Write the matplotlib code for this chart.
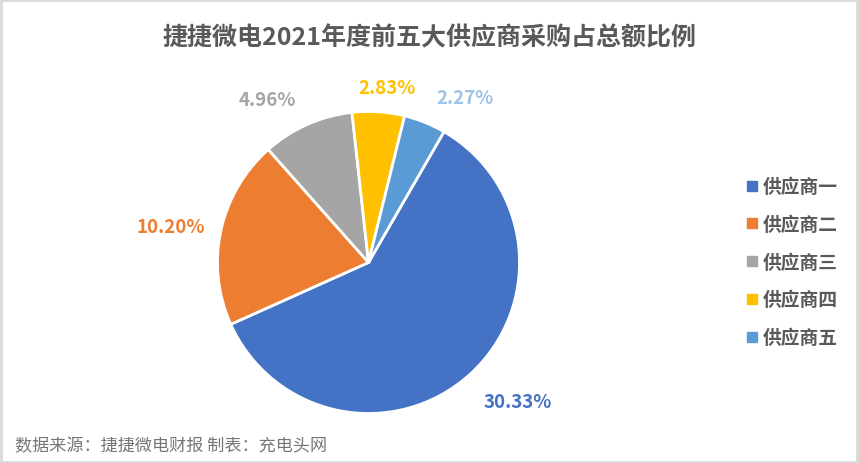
import matplotlib
matplotlib.use("Agg")
import numpy as np
import matplotlib.pyplot as plt
from matplotlib.lines import Line2D
from matplotlib.patches import Rectangle

plt.rcParams['font.family'] = ['Noto Sans CJK SC', 'DejaVu Sans']

# data
suppliers = ['供应商一', '供应商二', '供应商三', '供应商四', '供应商五']
shares = [30.33, 10.20, 4.96, 2.83, 2.27]
pct_labels = ['30.33%', '10.20%', '4.96%', '2.83%', '2.27%']

colors = ['#4472C4', '#ED7D31', '#A5A5A5', '#FFC000', '#5B9BD5']
label_colors = ['#4472C4', '#ED7D31', '#A5A5A5', '#FFC000', '#9DC3E6']
# label placement (radius units, degrees) like Excel's outside-end labels
label_dist = [1.35, 1.33, 1.27, 1.165, 1.265]
label_turn = [4.9, 1.9, 7.8, -2.2, -8.4]

fig = plt.figure(figsize=(8.59, 4.64), dpi=100)
fig.patch.set_facecolor('white')

# chart border
fig.add_artist(Rectangle((0.001, 0.002), 0.997, 0.995, transform=fig.transFigure,
                         fill=False, edgecolor='#D9D9D9', linewidth=2))

ax = fig.add_axes([0.2532, 0.1067, 0.3516, 0.6509])
wedges, _ = ax.pie(shares, colors=colors, startangle=60, counterclock=False,
                   wedgeprops=dict(edgecolor='white', linewidth=2))
for w, lab, c, d, turn in zip(wedges, pct_labels, label_colors, label_dist, label_turn):
    ang = np.deg2rad((w.theta1 + w.theta2) / 2 + turn)
    ax.text(d * np.cos(ang), d * np.sin(ang), lab, ha='center', va='center',
            color=c, fontsize=13.5, fontweight='bold')
ax.set_xlim(-1, 1)
ax.set_ylim(-1, 1)
ax.set_aspect('equal')

fig.text(0.5, 0.918, '捷捷微电2021年度前五大供应商采购占总额比例', ha='center', va='center',
         fontsize=18, fontweight='bold', color='#595959')

handles = [Line2D([], [], marker='s', linestyle='none', markersize=7,
                  markerfacecolor=c, markeredgecolor=c) for c in colors]
leg = fig.legend(handles, suppliers, loc='center left', bbox_to_anchor=(0.849, 0.433),
                 frameon=False, handlelength=0.6, handletextpad=0.3,
                 labelspacing=1.0, prop=dict(size=13.5, weight='bold'))
for t in leg.get_texts():
    t.set_color('#595959')

fig.text(0.018, 0.038, '数据来源：捷捷微电财报 制表：充电头网', ha='left', va='center',
         fontsize=12.3, color='#757575')

fig.savefig('out.png', dpi=100)
